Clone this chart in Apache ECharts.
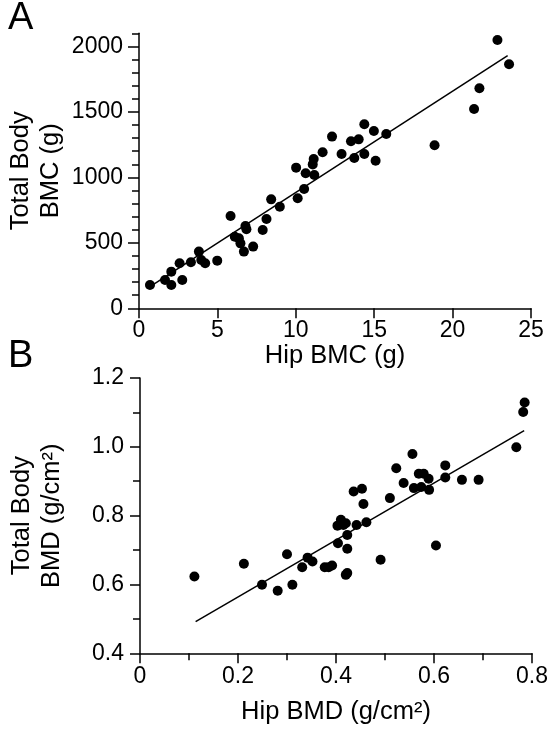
<!DOCTYPE html>
<html>
<head>
<meta charset="utf-8">
<script src="https://cdn.jsdelivr.net/npm/echarts@6/dist/echarts.min.js"></script>
<style>
html,body{margin:0;padding:0;background:#fff;}
#c{width:560px;height:731px;}
</style>
</head>
<body>
<div id="c"></div>
<script>
// Panel A: Hip BMC (g) vs Total Body BMC (g)
var hipBMC = [0.70,1.66,2.06,2.06,2.59,2.76,3.31,3.82,3.97,4.22,4.99,5.84,6.11,6.37,6.47,6.69,6.79,6.85,7.28,7.89,8.13,8.43,8.98,10.02,10.12,10.53,10.63,11.08,11.14,11.18,11.71,12.31,12.92,13.52,13.73,14.01,14.37,14.37,14.98,15.09,15.77,18.85,21.37,21.71,22.86,23.60];
var tbBMC  = [178,216,178,280,344,216,351,433,369,344,364,705,547,534,496,433,629,603,471,598,682,832,776,1074,840,911,1031,1099,1140,1018,1191,1311,1178,1275,1148,1290,1405,1178,1354,1127,1331,1245,1522,1680,2049,1863];
var fitA = [[0.53,153],[23.51,1929]];
var xTicksA = [0,5,10,15,20,25];
var yTicksA = [0,500,1000,1500,2000];

// Panel B: Hip BMD vs Total Body BMD (g/cm2)
var hipBMD = [0.111,0.212,0.249,0.281,0.300,0.311,0.331,0.342,0.352,0.377,0.385,0.392,0.404,0.403,0.410,0.415,0.420,0.423,0.423,0.420,0.423,0.436,0.442,0.453,0.456,0.462,0.491,0.510,0.523,0.538,0.556,0.559,0.569,0.574,0.579,0.589,0.590,0.604,0.623,0.623,0.657,0.691,0.768,0.782,0.785];
var tbBMD  = [0.623,0.660,0.599,0.582,0.688,0.599,0.650,0.678,0.667,0.650,0.650,0.655,0.720,0.771,0.788,0.773,0.778,0.744,0.704,0.628,0.633,0.870,0.773,0.878,0.834,0.781,0.672,0.851,0.938,0.895,0.979,0.880,0.922,0.883,0.922,0.907,0.875,0.713,0.946,0.911,0.904,0.904,0.999,1.101,1.129];
var fitB = [[0.1135,0.492],[0.784,1.047]];
var xTicksB = [0,0.2,0.4,0.6,0.8];
var yTicksB = [0.4,0.6,0.8,1.0,1.2];

function zip(a,b){var r=[];for(var i=0;i<a.length;i++)r.push([a[i],b[i]]);return r;}

var FONT = '"Liberation Sans", Arial, Helvetica, sans-serif';
var BLACK = '#000';
var lineStyle = {color: BLACK, width: 1.5, opacity: 1};
var tickStyle = {color: BLACK, width: 1.5, opacity: 1};
var nameStyle = {color: BLACK, fontSize: 25.5, fontFamily: FONT, lineHeight: 30};
function lab(margin, vals, fmt){
  return {show: true, margin: margin, customValues: vals, color: BLACK, fontSize: 23, fontFamily: FONT,
    formatter: fmt || function(v){ return String(v); }};
}

var chart = echarts.init(document.getElementById('c'), null, {renderer: 'canvas'});
chart.setOption({
  backgroundColor: '#fff',
  animation: false,
  textStyle: {fontFamily: FONT},
  grid: [
    {left: 139, top: 33.3, width: 392, height: 275, containLabel: false, outerBoundsMode: 'none'},
    {left: 140, top: 378, width: 392, height: 275.3, containLabel: false, outerBoundsMode: 'none'}
  ],
  xAxis: [
    {
      gridIndex: 0, type: 'value', min: 0, max: 25, interval: 5,
      name: 'Hip BMC (g)', nameLocation: 'middle', nameGap: 33, nameTextStyle: nameStyle, nameMoveOverlap: false,
      axisLine: {show: true, onZero: false, lineStyle: lineStyle},
      axisTick: {show: true, length: 10, inside: false, customValues: xTicksA, lineStyle: tickStyle},
      axisLabel: lab(11, xTicksA),
      splitLine: {show: false}
    },
    {
      gridIndex: 1, type: 'value', min: 0, max: 0.8, interval: 0.2,
      name: 'Hip BMD (g/cm\u00B2)', nameLocation: 'middle', nameGap: 44, nameTextStyle: nameStyle, nameMoveOverlap: false,
      axisLine: {show: true, onZero: false, lineStyle: lineStyle},
      axisTick: {show: true, length: 10, inside: false, lineStyle: tickStyle},
      minorTick: {show: true, splitNumber: 2, length: 7, lineStyle: tickStyle},
      axisLabel: lab(12, xTicksB, function(v){ return v === 0 ? '0' : v.toFixed(1); }),
      splitLine: {show: false}, minorSplitLine: {show: false}
    }
  ],
  yAxis: [
    {
      gridIndex: 0, type: 'value', min: 0, max: 2100, interval: 100, position: 'left',
      name: 'Total Body\nBMC (g)', nameLocation: 'middle', nameGap: 73, nameTextStyle: nameStyle, nameMoveOverlap: false,
      axisLine: {show: true, onZero: false, lineStyle: lineStyle},
      axisTick: {show: true, length: 7, inside: false, lineStyle: tickStyle},
      axisLabel: lab(16, yTicksA),
      splitLine: {show: false}
    },
    {
      gridIndex: 1, type: 'value', min: 0.4, max: 1.2, interval: 0.2,
      name: 'Total Body\nBMD (g/cm\u00B2)', nameLocation: 'middle', nameGap: 73, nameTextStyle: nameStyle, nameMoveOverlap: false,
      axisLine: {show: true, onZero: false, lineStyle: lineStyle},
      axisTick: {show: true, length: 10, inside: false, lineStyle: tickStyle},
      minorTick: {show: true, splitNumber: 2, length: 7, lineStyle: tickStyle},
      axisLabel: lab(16, yTicksB, function(v){ return v.toFixed(1); }),
      splitLine: {show: false}, minorSplitLine: {show: false}
    },
    {
      gridIndex: 0, type: 'value', min: 0, max: 2100, position: 'left', offset: 0,
      axisLine: {show: false},
      axisTick: {show: true, length: 11, inside: false, customValues: yTicksA, lineStyle: tickStyle},
      axisLabel: {show: false},
      splitLine: {show: false}
    }
  ],
  series: [
    {type: 'scatter', xAxisIndex: 0, yAxisIndex: 0, data: zip(hipBMC, tbBMC), symbol: 'circle', symbolSize: 10,
      itemStyle: {color: BLACK, opacity: 1}, z: 3},
    {type: 'line', xAxisIndex: 0, yAxisIndex: 0, data: fitA, showSymbol: false, symbol: 'none',
      lineStyle: {color: BLACK, width: 1.5}, z: 2},
    {type: 'scatter', xAxisIndex: 1, yAxisIndex: 1, data: zip(hipBMD, tbBMD), symbol: 'circle', symbolSize: 10,
      itemStyle: {color: BLACK, opacity: 1}, z: 3},
    {type: 'line', xAxisIndex: 1, yAxisIndex: 1, data: fitB, showSymbol: false, symbol: 'none',
      lineStyle: {color: BLACK, width: 1.5}, z: 2}
  ],
  graphic: [
    {type: 'text', left: 8, top: 0, style: {text: 'A', fontSize: 38, fontFamily: FONT, fill: BLACK}},
    {type: 'text', left: 8, top: 338, style: {text: 'B', fontSize: 38, fontFamily: FONT, fill: BLACK}}
  ]
});
</script>
</body>
</html>
